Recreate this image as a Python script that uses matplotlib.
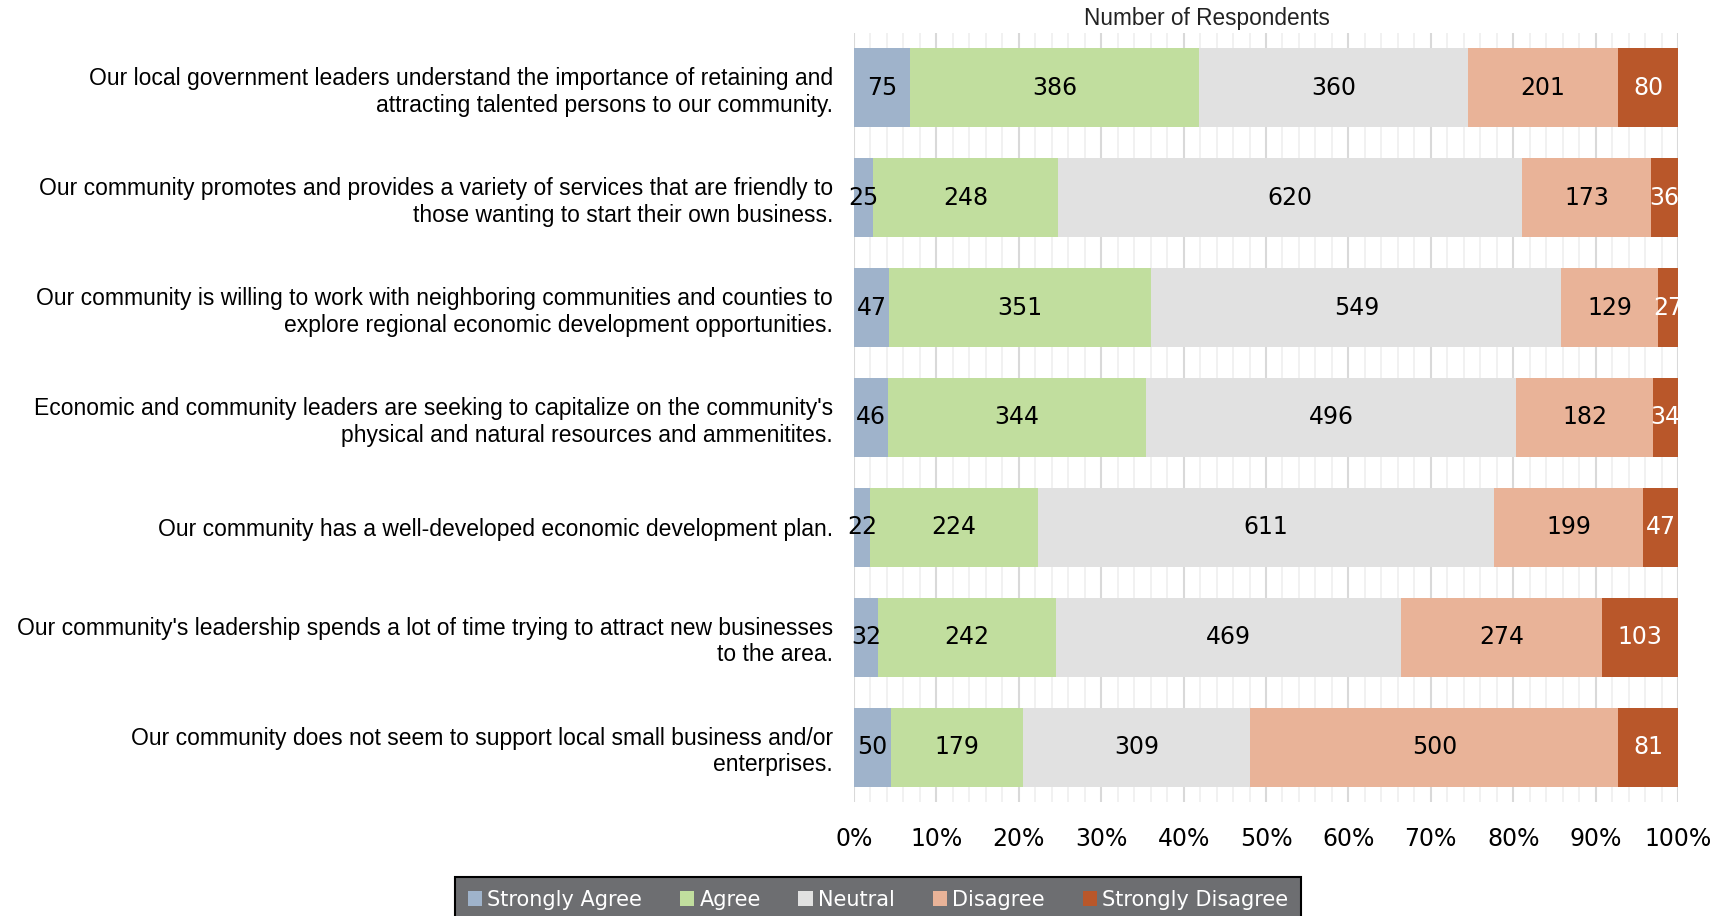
import numpy as np
import matplotlib.pyplot as plt
from matplotlib.ticker import MultipleLocator, PercentFormatter

# Survey statements (top to bottom) and counts per response.
statements = [
    "Our local government leaders understand the importance of retaining and\nattracting talented persons to our community.",
    "Our community promotes and provides a variety of services that are friendly to\nthose wanting to start their own business.",
    "Our community is willing to work with neighboring communities and counties to\nexplore regional economic development opportunities.",
    "Economic and community leaders are seeking to capitalize on the community's\nphysical and natural resources and ammenitites.",
    "Our community has a well-developed economic development plan.",
    "Our community's leadership spends a lot of time trying to attract new businesses\nto the area.",
    "Our community does not seem to support local small business and/or\nenterprises.",
]
responses = ["Strongly Agree", "Agree", "Neutral", "Disagree", "Strongly Disagree"]
strongly_agree = [75, 25, 47, 46, 22, 32, 50]
agree = [386, 248, 351, 344, 224, 242, 179]
neutral = [360, 620, 549, 496, 611, 469, 309]
disagree = [201, 173, 129, 182, 199, 274, 500]
strongly_disagree = [80, 36, 27, 34, 47, 103, 81]

colors = ["#9fb3cb", "#c1de9e", "#e1e1e1", "#e9b398", "#b9572a"]
text_colors = ["black", "black", "black", "black", "white"]

counts = np.array([strongly_agree, agree, neutral, disagree, strongly_disagree], dtype=float)
shares = counts / counts.sum(axis=0)

fig = plt.figure(figsize=(17.25, 9.16), dpi=100)
ax = fig.add_axes([854 / 1725, 1 - 802 / 916, 824 / 1725, 769 / 916])

ypos = np.arange(len(statements))
left = np.zeros(len(statements))
for i, name in enumerate(responses):
    bars = ax.barh(ypos, shares[i], left=left, height=0.72, color=colors[i],
                   label=name, zorder=3)
    for j, b in enumerate(bars):
        ax.text(left[j] + shares[i][j] / 2, ypos[j], str(int(counts[i][j])),
                ha="center", va="center", fontsize=17, color=text_colors[i], zorder=4)
    left += shares[i]

ax.set_xlim(0, 1)
ax.set_ylim(6.5, -0.5)
ax.xaxis.set_major_locator(MultipleLocator(0.1))
ax.xaxis.set_minor_locator(MultipleLocator(0.02))
ax.xaxis.set_major_formatter(PercentFormatter(1.0, decimals=0))
ax.grid(axis="x", which="major", color="#d9d9d9", linewidth=1.5, zorder=0)
ax.grid(axis="x", which="minor", color="#efefef", linewidth=1.2, zorder=0)
ax.set_axisbelow(True)
for s in ax.spines.values():
    s.set_visible(False)
ax.tick_params(axis="both", which="both", length=0)
ax.tick_params(axis="x", pad=18, labelsize=17)
ax.tick_params(axis="y", pad=15)
ax.set_yticks(ypos)
ax.set_yticklabels(statements, fontsize=16.5, family=["Liberation Sans", "DejaVu Sans"],
                   linespacing=1.2)

fig.text(1207 / 1725, 1 - 19 / 916, "Number of Respondents", ha="center", va="center",
         fontsize=16.3, color="#222222", family=["Liberation Sans", "DejaVu Sans"])

leg = fig.legend(loc="upper center", bbox_to_anchor=(878 / 1725, 1 - 877 / 916), ncol=5,
                 frameon=True, fancybox=False, facecolor="#6d6e71", edgecolor="black",
                 framealpha=1, handlelength=0.7, handleheight=0.7, handletextpad=0.25,
                 columnspacing=1.8, borderpad=0.6, borderaxespad=0, fontsize=15)
leg.get_frame().set_linewidth(1.5)
for t in leg.get_texts():
    t.set_color("white")

fig.savefig("out.png", dpi=100)
